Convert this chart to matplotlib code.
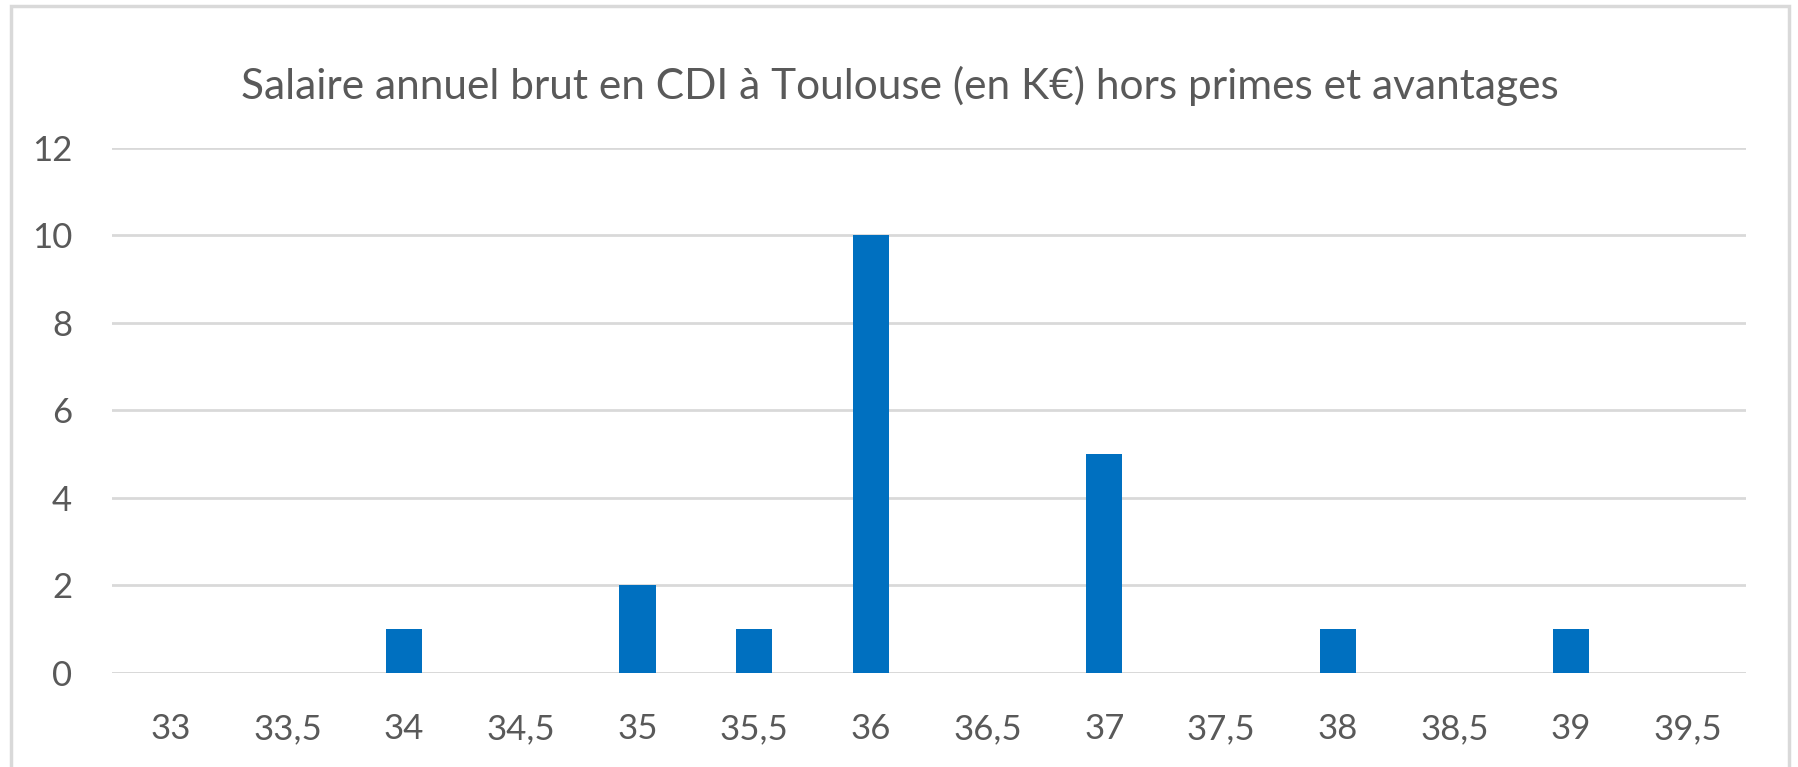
import matplotlib.pyplot as plt
from matplotlib.patches import Rectangle

# données
categories = ["33", "33,5", "34", "34,5", "35", "35,5", "36", "36,5",
              "37", "37,5", "38", "38,5", "39", "39,5"]
effectifs = [0, 0, 1, 0, 2, 1, 10, 0, 5, 0, 1, 0, 1, 0]
yticks = [0, 2, 4, 6, 8, 10, 12]
titre = "Salaire annuel brut en CDI à Toulouse (en K€) hors primes et avantages"

plt.rcParams['font.family'] = ['Lato', 'DejaVu Sans']
gris_texte = "#595959"
gris_grille = "#D9D9D9"

fig = plt.figure(figsize=(17.99, 7.67), dpi=100)
ax = fig.add_axes([0.0625, 0.1226, 0.9081, 0.6845])

x = range(len(categories))
ax.bar(x, effectifs, width=0.31, color="#0070C0", zorder=3)

ax.set_xlim(-0.5, len(categories) - 0.5)
ax.set_ylim(0, 12)
ax.set_yticks(yticks)
ax.set_xticks(list(x))
ax.set_xticklabels(categories)
ax.grid(axis="y", color=gris_grille, linewidth=2, zorder=0)
ax.tick_params(axis="both", length=0, labelsize=25, colors=gris_texte)
ax.tick_params(axis="y", pad=29)
ax.tick_params(axis="x", pad=29)
for s in ax.spines.values():
    s.set_visible(False)
ax.axhline(0, color=gris_grille, linewidth=2, zorder=1)

fig.text(0.5, 0.888, titre, ha="center", va="center", fontsize=30.5, color=gris_texte)

# cadre du graphique
fig.patches.append(Rectangle((11 / 1799, -0.05), (1789 - 11) / 1799, 1.05 - 6 / 767,
                             transform=fig.transFigure, fill=False,
                             edgecolor=gris_grille, linewidth=2.5))

fig.savefig("out.png", dpi=100, facecolor="white")
